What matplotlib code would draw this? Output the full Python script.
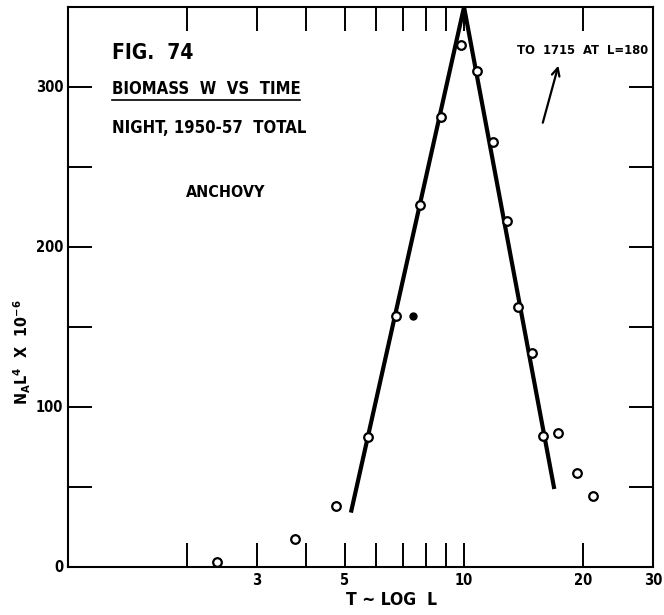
import matplotlib
matplotlib.use("Agg")
import matplotlib.pyplot as plt
from matplotlib.lines import Line2D

plt.rcParams['font.family'] = ['DejaVu Sans']
plt.rcParams['font.stretch'] = 'condensed'
plt.rcParams['mathtext.fontset'] = 'custom'
plt.rcParams['mathtext.rm'] = 'DejaVu Sans:bold'

# data
pt_x = [2.38, 3.74, 4.75, 5.72, 6.73, 7.74, 8.75, 9.83, 10.79, 11.84, 12.84,
        13.7, 14.85, 15.83, 17.27, 19.3, 21.2]
pt_y = [3.1, 17.5, 38, 81, 157, 226, 281, 326, 310, 265.6, 216,
        162.5, 134, 82, 84, 59, 44.6]
blob_x = [7.43]
blob_y = [157]
fit_x = [5.18, 10.0, 16.9]
fit_y = [34, 350, 48.75]
arrow_tail = (15.74, 276)
arrow_head = (17.38, 315)

xticks_major = [2, 3, 4, 5, 6, 7, 8, 9, 10, 20]
xtick_labels_at = [3, 5, 10, 20, 30]
yticks = [50, 100, 150, 200, 250, 300]
ytick_labels_at = [0, 100, 200, 300]

fig = plt.figure(figsize=(6.64, 6.15), dpi=100)
ax = fig.add_axes([68/664, 1-567/615, (653-68)/664, (567-7)/615])
ax.set_xscale('log')
ax.set_xlim(1, 30)
ax.set_ylim(0, 350)

ax.plot(fit_x, fit_y, color='black', lw=3.0, solid_joinstyle='miter',
        solid_capstyle='butt', zorder=2)
ax.plot(pt_x, pt_y, 'o', ms=6.2, mfc='white', mec='black', mew=1.6, zorder=3)
ax.plot(blob_x, blob_y, 'o', ms=5, color='black', zorder=3)

# ticks
ax.set_xticks(xticks_major)
ax.set_xticks([], minor=True)
ax.set_xticklabels([])
ax.set_yticks(yticks)
ax.set_yticklabels([])
ax.tick_params(axis='both', which='both', direction='in', length=17,
               width=1.4, top=True, right=True, labelbottom=False, labelleft=False)
for s in ax.spines.values():
    s.set_linewidth(1.5)

lab_font = dict(fontsize=10.5, fontweight='bold', fontstretch='condensed')
for v in xtick_labels_at:
    ax.text(v, -0.01, str(v), transform=ax.get_xaxis_transform(),
            ha='center', va='top', **lab_font)
for v in ytick_labels_at:
    ax.text(-0.008, v, str(v), transform=ax.get_yaxis_transform(),
            ha='right', va='center', **lab_font)

txt = dict(fontweight='bold', fontstretch='condensed')
# axis labels
fig.text(392/664, 1-600/615, 'T ~ LOG  L', ha='center', va='center',
         fontsize=12.5, **txt)
fig.text(22/664, 1-352/615,
         r'N$_\mathregular{A}$L$^\mathregular{4}$  X  10$^\mathregular{-6}$',
         rotation=90, ha='center', va='center', fontsize=11.5, **txt)

# annotations
fig.text(112/664, 1-53/615, 'FIG.  74', ha='left', va='center',
         fontsize=15, **txt)
fig.text(112/664, 1-89/615, 'BIOMASS  W  VS  TIME', ha='left', va='center',
         fontsize=12, **txt)
fig.add_artist(Line2D([112/664, 300/664], [1-100/615, 1-100/615],
                      color='black', lw=1.2, transform=fig.transFigure))
fig.text(112/664, 1-128/615, 'NIGHT, 1950-57  TOTAL', ha='left', va='center',
         fontsize=12, **txt)
fig.text(186/664, 1-192/615, 'ANCHOVY', ha='left', va='center',
         fontsize=11.5, **txt)
fig.text(517/664, 1-50/615, 'TO  1715  AT  L=180', ha='left', va='center',
         fontsize=9.3, **txt)
ax.annotate('', xy=arrow_head, xytext=arrow_tail,
            arrowprops=dict(arrowstyle='->', lw=1.6, color='black',
                            mutation_scale=14))

fig.savefig('out.png', dpi=100, facecolor='white')
